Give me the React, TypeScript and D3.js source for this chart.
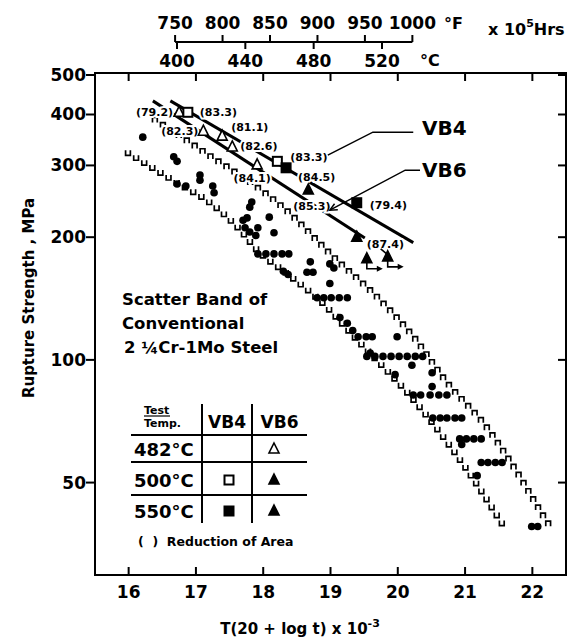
import React, { useEffect, useRef } from "react";
import * as d3 from "d3";

// ---------- axis ticks ----------
const xTicks = [16, 17, 18, 19, 20, 21, 22];
const yTicks = [50, 100, 200, 300, 400, 500];
const fTicks = [750, 800, 850, 900, 950, 1000];
const cTicks = [400, 440, 480, 520];

// ---------- scatter band of conventional 2 1/4Cr-1Mo steel ----------
const bandUpperP = [16.39, 16.81, 17.25, 17.55, 18.3, 19.04, 19.74, 20.23, 20.73, 21.33, 21.71, 22.22, 22.31];
const bandUpperS = [388, 350, 313, 291, 236, 179, 140, 114, 88, 68, 55, 40, 38];
const bandLowerP = [15.99, 16.72, 17.21, 17.66, 17.91, 18.35, 18.84, 19.44, 20.23, 21.02, 21.62];
const bandLowerS = [322, 272, 243, 208, 186, 163, 140, 110, 80, 54, 38];

const convP = [16.21, 16.67, 16.72, 17.06, 17.06, 16.72, 16.85, 17.25, 17.27,
  17.83, 17.8, 17.76, 17.7, 17.73, 17.8, 17.89, 17.92, 18.09, 18.16,
  17.92, 18.04, 18.16, 18.28, 18.38, 18.3, 18.37,
  18.7, 18.65, 18.74, 18.99, 19.05, 18.99,
  18.8, 18.9, 19.01, 19.13, 19.25, 19.14, 19.25, 19.33, 19.41,
  19.53, 19.62, 19.99, 19.59,
  19.54, 19.66, 19.78, 19.9, 20.02, 20.14, 20.26, 20.37,
  20.21, 19.96, 20.51, 20.51,
  20.23, 20.34, 20.48, 20.61, 20.73,
  20.52, 20.63, 20.73, 20.85, 20.95,
  20.92, 21.02, 21.13, 21.24, 20.95,
  21.24, 21.34, 21.45, 21.55, 21.18, 21.99, 22.08];
const convS = [352, 315, 307, 284, 276, 270, 267, 267, 257,
  244, 237, 223, 220, 211, 206, 202, 211, 224, 205,
  182, 182, 182, 182, 182, 165, 162,
  174, 164, 164, 172, 168, 154,
  142, 142, 142, 142, 142, 127, 123, 118, 114,
  114, 114, 114, 104,
  102, 102, 102, 102, 102, 102, 102, 102,
  97, 92, 93, 86,
  82, 82, 82, 82, 82,
  72, 72, 72, 72, 72,
  64, 64, 64, 64, 62,
  56, 56, 56, 56, 52, 39, 39];

// ---------- VB4 / VB6 trend lines ----------
const vb4LineP = [16.62, 20.23];
const vb4LineS = [432, 194];
const vb6LineP = [16.36, 19.51];
const vb6LineS = [432, 199];

// ---------- VB4 / VB6 test results ----------
const testSteel = ["VB6", "VB4", "VB6", "VB6", "VB6", "VB6", "VB4", "VB4", "VB6", "VB4", "VB6", "VB6", "VB6"];
const testTemp = [482, 500, 482, 482, 482, 482, 500, 550, 500, 550, 550, 550, 550];
const testP = [16.75, 16.88, 17.11, 17.39, 17.54, 17.91, 18.21, 18.34, 18.67, 19.39, 19.39, 19.54, 19.85];
const testS = [405, 405, 364, 354, 333, 301, 307, 296, 261, 243, 200, 177, 179];
const testRA = ["(79.2)", "(83.3)", "(82.3)", "(81.1)", "(82.6)", "(84.1)", "(83.3)", "(84.5)", "(85.3)", "(79.4)", "(87.4)", "", ""];
const testRunout = [false, false, false, false, false, false, false, false, false, false, false, true, true];

// label layout (pixel offsets from the point)
const labelLayout: [string, number, number][] = [
  ["end", -6, 0], ["start", 12, 0], ["end", -5, 0], ["start", 9, -9], ["start", 8, -1],
  ["middle", -5, 13], ["start", 13, -4], ["start", 12, 9], ["start", -15, 16],
  ["start", 13, 2], ["start", 10, 7], ["start", 0, 0], ["start", 0, 0],
];

// ---------- annotation leaders (data coords) ----------
const vb4LabelP = [20.36], vb4LabelS = [370];
const vb4LeaderP = [20.23, 19.63, 18.96];
const vb4LeaderS = [362, 362, 318];
const vb6LabelP = [20.36], vb6LabelS = [292];
const vb6LeaderP = [20.33, 20.11, 18.99];
const vb6LeaderS = [292, 292, 233];

const tableTemps = ["482°C", "500°C", "550°C"];

const FONT = "'DejaVu Sans', 'Liberation Sans', sans-serif";

export default function App() {
  const ref = useRef<SVGSVGElement>(null);

  useEffect(() => {
    const svg = d3.select(ref.current);
    svg.selectAll("*").remove();
    const g = svg.append("g");

    const x = d3.scaleLinear().domain([15.5, 22.5]).range([95, 566]);
    const y = d3.scaleLog().domain([30, 500]).range([573, 75]);
    const cScale = d3.scaleLinear().domain([400, 520]).range([177, 382]);
    const fToC = (f: number) => ((f - 32) * 5) / 9;

    const fTop = 73, fBot = 575, fLeft = 95, fRight = 566;

    // frame
    g.append("rect").attr("x", fLeft).attr("y", fTop).attr("width", fRight - fLeft).attr("height", fBot - fTop)
      .attr("fill", "none").attr("stroke", "#000").attr("stroke-width", 2);

    // y ticks
    yTicks.forEach((v) => {
      const yy = y(v);
      g.append("line").attr("x1", fLeft - 9).attr("x2", fLeft).attr("y1", yy).attr("y2", yy).attr("stroke", "#000").attr("stroke-width", 2);
      g.append("line").attr("x1", fRight - 8).attr("x2", fRight).attr("y1", yy).attr("y2", yy).attr("stroke", "#000").attr("stroke-width", 2);
      g.append("text").attr("x", fLeft - 9).attr("y", yy + 6).attr("text-anchor", "end")
        .attr("font-family", FONT).attr("font-size", 17).attr("font-weight", "bold").text(String(v));
    });

    // x ticks
    xTicks.forEach((v) => {
      const xx = x(v);
      g.append("line").attr("x1", xx).attr("x2", xx).attr("y1", fBot).attr("y2", fBot - 8).attr("stroke", "#000").attr("stroke-width", 2);
      g.append("line").attr("x1", xx).attr("x2", xx).attr("y1", fTop).attr("y2", fTop + 8).attr("stroke", "#000").attr("stroke-width", 2);
      g.append("text").attr("x", xx).attr("y", 598).attr("text-anchor", "middle")
        .attr("font-family", FONT).attr("font-size", 17).attr("font-weight", "bold").text(String(v));
    });

    // x title
    const xt = g.append("text").attr("x", 300).attr("y", 634).attr("text-anchor", "middle")
      .attr("font-family", FONT).attr("font-size", 15).attr("font-weight", "bold");
    xt.append("tspan").text("T(20 + log t) x 10");
    xt.append("tspan").attr("dy", -7).attr("font-size", 11).text("-3");

    // y title
    g.append("text").attr("transform", "translate(34,298) rotate(-90)").attr("text-anchor", "middle")
      .attr("font-family", FONT).attr("font-size", 15).attr("font-weight", "bold").text("Rupture  Strength ,  MPa");

    // top temperature axis (t = 10^5 h)
    const ay = 42;
    g.append("line").attr("x1", cScale(fToC(750))).attr("x2", cScale(fToC(1000))).attr("y1", ay).attr("y2", ay)
      .attr("stroke", "#000").attr("stroke-width", 2);
    fTicks.forEach((f) => {
      const xx = cScale(fToC(f));
      g.append("line").attr("x1", xx).attr("x2", xx).attr("y1", ay - 7).attr("y2", ay).attr("stroke", "#000").attr("stroke-width", 2);
      g.append("text").attr("x", xx).attr("y", 29).attr("text-anchor", "middle")
        .attr("font-family", FONT).attr("font-size", 17).attr("font-weight", "bold").text(String(f));
    });
    cTicks.forEach((c) => {
      const xx = cScale(c);
      g.append("line").attr("x1", xx).attr("x2", xx).attr("y1", ay).attr("y2", ay + 7).attr("stroke", "#000").attr("stroke-width", 2);
      g.append("text").attr("x", xx).attr("y", 67).attr("text-anchor", "middle")
        .attr("font-family", FONT).attr("font-size", 17).attr("font-weight", "bold").text(String(c));
    });
    g.append("text").attr("x", 444).attr("y", 29).attr("font-family", FONT).attr("font-size", 16).attr("font-weight", "bold").text("°F");
    g.append("text").attr("x", 420).attr("y", 66).attr("font-family", FONT).attr("font-size", 16).attr("font-weight", "bold").text("°C");
    const hrs = g.append("text").attr("x", 488).attr("y", 35).attr("font-family", FONT).attr("font-size", 16).attr("font-weight", "bold");
    hrs.append("tspan").text("x 10");
    hrs.append("tspan").attr("dy", -8).attr("font-size", 11).text("5");
    hrs.append("tspan").attr("dy", 8).text("Hrs");

    // scatter band boundaries
    const lineGen = d3.line<[number, number]>().x((d) => x(d[0])).y((d) => y(d[1])).curve(d3.curveMonotoneX);
    const drawBand = (P: number[], S: number[], upper: boolean) => {
      const pts = P.map((p, i) => [p, S[i]] as [number, number]);
      const path = g.append("path").attr("d", lineGen(pts) || "").attr("fill", "none").attr("stroke", "none");
      const node = path.node() as SVGPathElement;
      const L = node.getTotalLength();
      for (let s = 0; s <= L; s += 9.5) {
        const p = node.getPointAtLength(s);
        const d = upper
          ? `M${p.x - 2.4},${p.y + 2.6}V${p.y - 2.4}H${p.x + 2.4}V${p.y + 2.6}`
          : `M${p.x - 2.4},${p.y - 2.6}V${p.y + 2.4}H${p.x + 2.4}V${p.y - 2.6}`;
        g.append("path").attr("d", d).attr("fill", "none").attr("stroke", "#000").attr("stroke-width", 1.7);
      }
    };
    drawBand(bandUpperP, bandUpperS, true);
    drawBand(bandLowerP, bandLowerS, false);

    // conventional steel data
    convP.forEach((p, i) => {
      g.append("circle").attr("cx", x(p)).attr("cy", y(convS[i])).attr("r", 3.8).attr("fill", "#000");
    });

    // trend lines
    const trend = (P: number[], S: number[]) =>
      g.append("line").attr("x1", x(P[0])).attr("y1", y(S[0])).attr("x2", x(P[1])).attr("y2", y(S[1]))
        .attr("stroke", "#000").attr("stroke-width", 3);
    trend(vb4LineP, vb4LineS);
    trend(vb6LineP, vb6LineS);

    // labels with white halo (break the lines)
    testRA.forEach((t, i) => {
      if (!t) return;
      const [anchor, dx, dy] = labelLayout[i];
      g.append("text").attr("x", x(testP[i]) + dx).attr("y", y(testS[i]) + dy).attr("dy", "0.35em")
        .attr("text-anchor", anchor).attr("font-family", FONT).attr("font-size", 11).attr("font-weight", "bold")
        .attr("stroke", "#fff").attr("stroke-width", 4).attr("paint-order", "stroke").attr("fill", "#000").text(t);
    });

    // markers
    const triPath = (cx: number, cy: number, s: number) =>
      `M${cx},${cy - s * 0.6}L${cx + s / 2},${cy + s * 0.4}L${cx - s / 2},${cy + s * 0.4}Z`;
    const drawMarker = (gg: any, steel: string, temp: number, cx: number, cy: number) => {
      if (steel === "VB6") {
        const open = temp === 482;
        gg.append("path").attr("d", triPath(cx, cy, 10)).attr("fill", open ? "#fff" : "#000")
          .attr("stroke", "#000").attr("stroke-width", 1.6);
      } else {
        const open = temp === 500;
        gg.append("rect").attr("x", cx - 4.5).attr("y", cy - 4.5).attr("width", 9).attr("height", 9)
          .attr("fill", open ? "#fff" : "#000").attr("stroke", "#000").attr("stroke-width", 2);
      }
    };
    testP.forEach((p, i) => {
      const cx = x(p), cy = y(testS[i]);
      drawMarker(g, testSteel[i], testTemp[i], cx, cy);
      if (testRunout[i]) {
        g.append("path").attr("d", `M${cx},${cy + 4}V${cy + 10}H${cx + 13}`).attr("fill", "none").attr("stroke", "#000").attr("stroke-width", 1.6);
        g.append("path").attr("d", `M${cx + 16},${cy + 10}L${cx + 10},${cy + 7}L${cx + 10},${cy + 13}Z`).attr("fill", "#000");
      }
    });
    // pointer from (87.4) to second run-out
    {
      const i = testP.length - 1;
      const cx = x(testP[i]), cy = y(testS[i]);
      g.append("line").attr("x1", cx - 7).attr("y1", cy - 8).attr("x2", cx - 1).attr("y2", cy - 3).attr("stroke", "#000").attr("stroke-width", 1.6);
    }

    // VB4 / VB6 labels and leaders
    const leader = (P: number[], S: number[], arrow: boolean) => {
      const pts = P.map((p, i) => [x(p), y(S[i])] as [number, number]);
      g.append("path").attr("d", d3.line()(pts) || "").attr("fill", "none").attr("stroke", "#000").attr("stroke-width", 1.5);
      if (arrow) {
        const [x1, y1] = pts[pts.length - 2];
        const [x2, y2] = pts[pts.length - 1];
        const a = Math.atan2(y2 - y1, x2 - x1);
        const l = 8;
        const p1 = [x2 - l * Math.cos(a - 0.45), y2 - l * Math.sin(a - 0.45)];
        const p2 = [x2 - l * Math.cos(a + 0.45), y2 - l * Math.sin(a + 0.45)];
        g.append("path").attr("d", `M${p1[0]},${p1[1]}L${x2},${y2}L${p2[0]},${p2[1]}`).attr("fill", "none").attr("stroke", "#000").attr("stroke-width", 1.5);
      }
    };
    leader(vb4LeaderP, vb4LeaderS, false);
    leader(vb6LeaderP, vb6LeaderS, true);
    g.append("text").attr("x", x(vb4LabelP[0])).attr("y", y(vb4LabelS[0])).attr("dy", "0.35em")
      .attr("font-family", FONT).attr("font-size", 20).attr("font-weight", "bold").text("VB4");
    g.append("text").attr("x", x(vb6LabelP[0])).attr("y", y(vb6LabelS[0])).attr("dy", "0.35em")
      .attr("font-family", FONT).attr("font-size", 20).attr("font-weight", "bold").text("VB6");

    // scatter band caption
    const cap = ["Scatter Band of", "Conventional"];
    cap.forEach((t, i) => {
      g.append("text").attr("x", 122).attr("y", 305 + i * 24).attr("font-family", FONT).attr("font-size", 16.5)
        .attr("font-weight", "bold").text(t);
    });
    const c3 = g.append("text").attr("x", 124).attr("y", 353).attr("font-family", FONT).attr("font-size", 16.5).attr("font-weight", "bold");
    c3.append("tspan").text("2 ");
    c3.append("tspan").text("¼");
    c3.append("tspan").text("Cr-1Mo Steel");

    // legend table
    const T = g.append("g");
    const tl = 131, tr = 307, c1 = 202, c2 = 252;
    [435, 462, 495].forEach((yy) => {
      T.append("line").attr("x1", tl).attr("x2", tr).attr("y1", yy).attr("y2", yy).attr("stroke", "#000").attr("stroke-width", 2);
    });
    [c1, c2].forEach((xx) => {
      T.append("line").attr("x1", xx).attr("x2", xx).attr("y1", 404).attr("y2", 523).attr("stroke", "#000").attr("stroke-width", 2);
    });
    T.append("text").attr("x", 144).attr("y", 414).attr("font-family", FONT).attr("font-size", 11).attr("font-weight", "bold").text("Test");
    T.append("line").attr("x1", 144).attr("x2", 170).attr("y1", 416).attr("y2", 416).attr("stroke", "#000").attr("stroke-width", 1.2);
    T.append("text").attr("x", 144).attr("y", 427).attr("font-family", FONT).attr("font-size", 11).attr("font-weight", "bold").text("Temp.");
    T.append("text").attr("x", (c1 + c2) / 2).attr("y", 428).attr("text-anchor", "middle").attr("font-family", FONT).attr("font-size", 17).attr("font-weight", "bold").text("VB4");
    T.append("text").attr("x", (c2 + tr) / 2).attr("y", 428).attr("text-anchor", "middle").attr("font-family", FONT).attr("font-size", 17).attr("font-weight", "bold").text("VB6");
    const rowY = [449, 480, 511];
    tableTemps.forEach((t, i) => {
      T.append("text").attr("x", 134).attr("y", rowY[i] + 7).attr("font-family", FONT).attr("font-size", 18).attr("font-weight", "bold").text(t);
    });
    drawMarker(T, "VB6", 482, 274, rowY[0]);
    drawMarker(T, "VB4", 500, 229, rowY[1]);
    drawMarker(T, "VB6", 500, 274, rowY[1]);
    drawMarker(T, "VB4", 550, 229, rowY[2]);
    drawMarker(T, "VB6", 550, 274, rowY[2]);
    T.append("text").attr("x", 138).attr("y", 546).attr("font-family", FONT).attr("font-size", 12.5).attr("font-weight", "bold")
      .attr("xml:space", "preserve").text("(  )  Reduction of Area");
  }, []);

  return (
    <svg ref={ref} width={587} height={637}
      style={{ position: "absolute", left: 0, top: 0, display: "block", background: "#fff" }} />
  );
}
